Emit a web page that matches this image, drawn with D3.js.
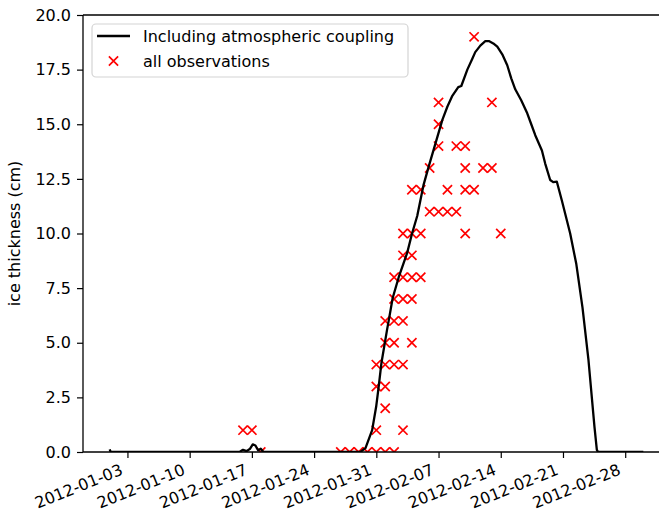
<!DOCTYPE html>
<html>
<head>
<meta charset="utf-8">
<script src="https://cdn.jsdelivr.net/npm/d3@7"></script>
<style>
  body { margin: 0; background: #fff; }
  text { font-family: "DejaVu Sans", sans-serif; fill: #000; }
</style>
</head>
<body>
<div id="chart"></div>
<script>
// model curve: days since 2012-01-01 and ice thickness (cm)
var lineDays = [0, 0.12, 14.6, 15.0, 15.4, 15.8, 16.1, 16.4, 16.7, 17.0, 17.3, 28.2, 28.78, 29.53, 29.98, 30.27, 30.57, 31.21, 31.39, 31.84, 32.52, 33.46, 34.02, 34.6, 34.95, 35.3, 35.89, 36.64, 37.43, 37.99, 38.55, 39.22, 39.56, 40.24, 40.8, 41.13, 41.7, 42.26, 42.71, 43.16, 43.61, 44.17, 44.73, 45.18, 45.63, 46.3, 46.98, 47.43, 47.88, 48.63, 49.0, 49.56, 49.9, 50.31, 50.88, 51.81, 52.5, 53.2, 53.87, 54.54, 54.81, 54.95, 60.04];
var lineVals = [0.12, 0, 0, 0.1, 0.04, 0.15, 0.35, 0.3, 0.08, 0.15, 0, 0, 0.18, 1.0, 2.07, 3.0, 4.06, 5.6, 6.0, 7.05, 8.0, 9.1, 10.0, 10.8, 11.5, 12.2, 13.06, 14.1, 15.2, 15.8, 16.3, 16.7, 16.75, 17.5, 18.0, 18.3, 18.6, 18.8, 18.8, 18.7, 18.55, 18.2, 17.7, 17.1, 16.6, 16.1, 15.5, 15.0, 14.5, 13.8, 13.2, 12.45, 12.35, 12.37, 11.5, 10.0, 8.6, 6.6, 4.2, 1.16, 0.1, 0, 0];

// observations
var obsDates = ["2012-01-27", "2012-01-28", "2012-01-29", "2012-01-30", "2012-01-31", "2012-02-01", "2012-02-02", "2012-01-18",
  "2012-01-16", "2012-01-17", "2012-01-31", "2012-02-03",
  "2012-02-01",
  "2012-01-31", "2012-02-01",
  "2012-01-31", "2012-02-01", "2012-02-02", "2012-02-03",
  "2012-02-01", "2012-02-02", "2012-02-04",
  "2012-02-01", "2012-02-02", "2012-02-03",
  "2012-02-02", "2012-02-03", "2012-02-04",
  "2012-02-02", "2012-02-03", "2012-02-04", "2012-02-05",
  "2012-02-03", "2012-02-04",
  "2012-02-03", "2012-02-04", "2012-02-05", "2012-02-10", "2012-02-14",
  "2012-02-06", "2012-02-07", "2012-02-08", "2012-02-09",
  "2012-02-04", "2012-02-05", "2012-02-08", "2012-02-10", "2012-02-11",
  "2012-02-06", "2012-02-10", "2012-02-12", "2012-02-13",
  "2012-02-07", "2012-02-09", "2012-02-10",
  "2012-02-07",
  "2012-02-07", "2012-02-13",
  "2012-02-11"];
var obsVals = [0, 0, 0, 0, 0, 0, 0, 0,
  1, 1, 1, 1,
  2,
  3, 3,
  4, 4, 4, 4,
  5, 5, 5,
  6, 6, 6,
  7, 7, 7,
  8, 8, 8, 8,
  9, 9,
  10, 10, 10, 10, 10,
  11, 11, 11, 11,
  12, 12, 12, 12, 12,
  13, 13, 13, 13,
  14, 14, 14,
  15,
  16, 16,
  19];

var xTickLabels = ["2012-01-03", "2012-01-10", "2012-01-17", "2012-01-24", "2012-01-31", "2012-02-07", "2012-02-14", "2012-02-21", "2012-02-28"];
var yTicks = [0, 2.5, 5, 7.5, 10, 12.5, 15, 17.5, 20];

var W = 659, H = 515;
var mLeft = 83, mTop = 15, mBottom = 452, mRight = 670;

var t0 = Date.UTC(2012, 0, 1);
function dayToDate(d) { return new Date(t0 + d * 864e5); }
var parse = d3.utcParse("%Y-%m-%d");

var x = d3.scaleUtc()
  .domain([dayToDate(-3.0), dayToDate(63.04)])
  .range([mLeft, mRight]);
var y = d3.scaleLinear().domain([0, 20]).range([mBottom, mTop]);

var svg = d3.select("#chart").append("svg")
  .attr("width", W).attr("height", H);

svg.append("defs").append("clipPath").attr("id", "plotclip")
  .append("rect").attr("x", mLeft).attr("y", mTop)
  .attr("width", mRight - mLeft).attr("height", mBottom - mTop);

var plot = svg.append("g").attr("clip-path", "url(#plotclip)");

// observations (drawn under the line)
var cross = 4.6;
var obs = obsDates.map(function (d, i) { return { date: parse(d), v: obsVals[i] }; });
plot.selectAll("path.obs")
  .data(obs)
  .join("path")
  .attr("class", "obs")
  .attr("d", function (d) {
    var cx = x(d.date), cy = y(d.v);
    return "M" + (cx - cross) + "," + (cy - cross) + "L" + (cx + cross) + "," + (cy + cross) +
      "M" + (cx - cross) + "," + (cy + cross) + "L" + (cx + cross) + "," + (cy - cross);
  })
  .attr("stroke", "red")
  .attr("stroke-width", 1.7)
  .attr("fill", "none");

var pts = lineDays.map(function (d, i) { return [dayToDate(d), lineVals[i]]; });
plot.append("path")
  .datum(pts)
  .attr("d", d3.line().x(function (d) { return x(d[0]); }).y(function (d) { return y(d[1]); }))
  .attr("fill", "none")
  .attr("stroke", "#000")
  .attr("stroke-width", 2.3)
  .attr("stroke-linejoin", "round");

// axes
var yAxis = svg.append("g")
  .attr("transform", "translate(" + mLeft + ",0)")
  .call(d3.axisLeft(y).tickValues(yTicks).tickFormat(d3.format(".1f")).tickSize(6).tickPadding(6));

var xAxis = svg.append("g")
  .attr("transform", "translate(0," + mBottom + ")")
  .call(d3.axisBottom(x).tickValues(xTickLabels.map(parse)).tickFormat(d3.utcFormat("%Y-%m-%d")).tickSize(6));

[xAxis, yAxis].forEach(function (a) {
  a.select(".domain").remove();
  a.selectAll(".tick line").attr("stroke", "#000").attr("stroke-width", 1.2);
  a.selectAll("text").style("font-size", "16px").attr("fill", "#000");
});

xAxis.selectAll(".tick text")
  .attr("text-anchor", "end")
  .attr("y", 0).attr("dy", 0)
  .attr("transform", "translate(-4,22) rotate(-22)");

// spines (right spine falls outside the picture)
svg.append("line").attr("x1", mLeft).attr("x2", mLeft).attr("y1", mTop).attr("y2", mBottom)
  .attr("stroke", "#000").attr("stroke-width", 1.3);
svg.append("line").attr("x1", mLeft).attr("x2", W).attr("y1", mBottom).attr("y2", mBottom)
  .attr("stroke", "#000").attr("stroke-width", 1.3);
svg.append("line").attr("x1", mLeft).attr("x2", W).attr("y1", mTop).attr("y2", mTop)
  .attr("stroke", "#000").attr("stroke-width", 1.3);

svg.append("text")
  .attr("transform", "translate(20," + ((mTop + mBottom) / 2) + ") rotate(-90)")
  .attr("text-anchor", "middle")
  .style("font-size", "16px")
  .text("ice thickness (cm)");

// legend
var lg = svg.append("g");
lg.append("rect")
  .attr("x", 92).attr("y", 24).attr("width", 316).attr("height", 53)
  .attr("rx", 4)
  .attr("fill", "#fff").attr("fill-opacity", 0.8)
  .attr("stroke", "#d4d4d4").attr("stroke-width", 1.2);
lg.append("line").attr("x1", 97).attr("x2", 130).attr("y1", 36).attr("y2", 36)
  .attr("stroke", "#000").attr("stroke-width", 2.3);
lg.append("path")
  .attr("d", "M" + (113.5 - cross) + "," + (61 - cross) + "L" + (113.5 + cross) + "," + (61 + cross) +
    "M" + (113.5 - cross) + "," + (61 + cross) + "L" + (113.5 + cross) + "," + (61 - cross))
  .attr("stroke", "red").attr("stroke-width", 1.7);
lg.append("text").attr("x", 143).attr("y", 36).attr("dy", "0.35em").style("font-size", "16px")
  .text("Including atmospheric coupling");
lg.append("text").attr("x", 143).attr("y", 61).attr("dy", "0.35em").style("font-size", "16px")
  .text("all observations");
</script>
</body>
</html>
